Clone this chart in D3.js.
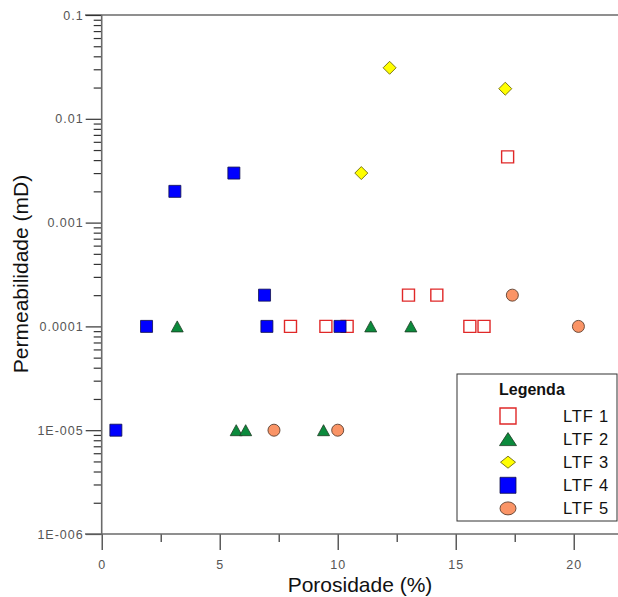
<!DOCTYPE html>
<html>
<head>
<meta charset="utf-8">
<script src="https://cdn.jsdelivr.net/npm/d3@7"></script>
<style>
  body { margin: 0; background: #fff; }
  svg { display: block; font-family: Arial, "Liberation Sans", sans-serif; }
</style>
</head>
<body>
<svg id="chart" width="618" height="597"></svg>
<script>
// porosity (%) / permeability (mD)
const ltf1_x = [8.0, 9.5, 10.4, 13.0, 14.2, 15.6, 16.2, 17.2]
const ltf1_y = [0.0001, 0.0001, 0.0001, 0.0002, 0.0002, 0.0001, 0.0001, 0.0043]
const ltf2_x = [3.2, 5.7, 6.1, 9.4, 11.4, 13.1]
const ltf2_y = [0.0001, 0.00001, 0.00001, 0.00001, 0.0001, 0.0001]
const ltf3_x = [12.2, 17.1, 11.0]
const ltf3_y = [0.031, 0.0195, 0.003]
const ltf4_x = [0.6, 1.9, 3.1, 5.6, 6.9, 7.0, 10.1]
const ltf4_y = [0.00001, 0.0001, 0.002, 0.003, 0.0002, 0.0001, 0.0001]
const ltf5_x = [7.3, 10.0, 17.4, 20.2]
const ltf5_y = [0.00001, 0.00001, 0.0002, 0.0001]

const seriesNames = ['LTF 1', 'LTF 2', 'LTF 3', 'LTF 4', 'LTF 5']
const xTicks = [0, 5, 10, 15, 20]
const xMinor = [2.5, 7.5, 12.5, 17.5]
const yTicks = [1e-6, 1e-5, 1e-4, 1e-3, 1e-2, 1e-1]
const yLabels = ['1E-006', '1E-005', '0.0001', '0.001', '0.01', '0.1']

const series = [
  {name: seriesNames[0], xs: ltf1_x, ys: ltf1_y, shape: 'square', fill: '#fff', stroke: '#e02828', sw: 1.4},
  {name: seriesNames[1], xs: ltf2_x, ys: ltf2_y, shape: 'triangle', fill: '#0b8a3c', stroke: '#1d3b22', sw: 0.8},
  {name: seriesNames[2], xs: ltf3_x, ys: ltf3_y, shape: 'diamond', fill: '#ffff00', stroke: '#6e6a10', sw: 0.9},
  {name: seriesNames[3], xs: ltf4_x, ys: ltf4_y, shape: 'square', fill: '#0000ff', stroke: '#10104a', sw: 0.8},
  {name: seriesNames[4], xs: ltf5_x, ys: ltf5_y, shape: 'circle', fill: '#fa9466', stroke: '#5c4030', sw: 0.9}
]

const svg = d3.select('#chart')
const axisColor = '#6a6a6a'

const x = d3.scaleLinear().domain([0, 22]).range([101.7, 620.9])
const y = d3.scaleLog().domain([1e-6, 0.1]).range([534, 15])

// marker path, w/h are full width and height
function shapePath(shape, w, h) {
  const a = w / 2, b = h / 2
  if (shape === 'square') return `M${-a},${-b}H${a}V${b}H${-a}Z`
  if (shape === 'triangle') return `M0,${-b}L${a},${b}L${-a},${b}Z`
  if (shape === 'diamond') return `M0,${-b}L${a},0L0,${b}L${-a},0Z`
  return `M${-a},0A${a},${b} 0 1,0 ${a},0A${a},${b} 0 1,0 ${-a},0Z`
}
const plotSize = {square: [12, 12], triangle: [12, 11], diamond: [13, 13], circle: [12, 12]}
const legSize = {square: [16, 16], triangle: [17, 13], diamond: [15, 12], circle: [16, 13]}

// top frame line
svg.append('line')
  .attr('x1', 85).attr('x2', 618).attr('y1', y(0.1)).attr('y2', y(0.1))
  .attr('stroke', axisColor).attr('stroke-width', 1.6)

// minor ticks for log axis
const yMinor = []
yTicks.slice(0, -1).forEach(d => { for (let k = 2; k <= 9; k++) yMinor.push(d * k) })

const yAxisMinor = svg.append('g')
  .attr('transform', `translate(${x(0)},0)`)
  .call(d3.axisLeft(y).tickValues(yMinor).tickSize(8).tickFormat(''))
const yAxis = svg.append('g')
  .attr('transform', `translate(${x(0)},0)`)
  .call(d3.axisLeft(y).tickValues(yTicks).tickSize(16).tickPadding(2)
    .tickFormat((d, i) => yLabels[i]))

const xAxisMinor = svg.append('g')
  .attr('transform', `translate(0,${y(1e-6)})`)
  .call(d3.axisBottom(x).tickValues(xMinor).tickSize(8).tickFormat(''))
const xAxis = svg.append('g')
  .attr('transform', `translate(0,${y(1e-6)})`)
  .call(d3.axisBottom(x).tickValues(xTicks).tickSize(16).tickPadding(10))

;[yAxisMinor, yAxis, xAxisMinor, xAxis].forEach(g => {
  g.select('.domain').remove()
  g.selectAll('line').attr('stroke', '#333').attr('stroke-width', 1.2)
  g.selectAll('text').attr('fill', '#555').style('font-size', '12.5px')
    .style('letter-spacing', '1px')
})

// axis lines
svg.append('line')
  .attr('x1', x(0)).attr('x2', x(0)).attr('y1', y(0.1)).attr('y2', y(1e-6))
  .attr('stroke', axisColor).attr('stroke-width', 1.6)
svg.append('line')
  .attr('x1', 85).attr('x2', 618).attr('y1', y(1e-6)).attr('y2', y(1e-6))
  .attr('stroke', axisColor).attr('stroke-width', 1.6)

// points
series.forEach(s => {
  const pts = s.xs.map((v, i) => [v, s.ys[i]])
  svg.append('g').selectAll('path')
    .data(pts)
    .join('path')
    .attr('transform', d => `translate(${x(d[0])},${y(d[1])})`)
    .attr('d', shapePath(s.shape, plotSize[s.shape][0], plotSize[s.shape][1]))
    .attr('fill', s.fill)
    .attr('stroke', s.stroke)
    .attr('stroke-width', s.sw)
})

// axis titles
svg.append('text')
  .attr('transform', 'translate(28,274) rotate(-90)')
  .attr('text-anchor', 'middle')
  .style('font-size', '21px')
  .attr('fill', '#111')
  .text('Permeabilidade (mD)')
svg.append('text')
  .attr('x', 360).attr('y', 592)
  .attr('text-anchor', 'middle')
  .style('font-size', '21px')
  .attr('fill', '#111')
  .text('Porosidade (%)')

// legend
const leg = svg.append('g').attr('transform', 'translate(457,374)')
leg.append('rect')
  .attr('width', 160).attr('height', 147)
  .attr('fill', '#fff').attr('stroke', '#333').attr('stroke-width', 1)
leg.append('text')
  .attr('x', 42).attr('y', 21)
  .style('font-size', '16px').style('font-weight', 'bold')
  .attr('fill', '#111')
  .text('Legenda')
const rows = leg.selectAll('g.row')
  .data(series)
  .join('g')
  .attr('class', 'row')
  .attr('transform', (d, i) => `translate(0,${42 + i * 23.1})`)
rows.append('path')
  .attr('transform', 'translate(51,0)')
  .attr('d', d => shapePath(d.shape, legSize[d.shape][0], legSize[d.shape][1]))
  .attr('fill', d => d.fill)
  .attr('stroke', d => d.stroke)
  .attr('stroke-width', d => d.sw)
rows.append('text')
  .attr('x', 106).attr('y', 6)
  .style('font-size', '16.5px')
  .style('letter-spacing', '0.8px')
  .attr('fill', '#111')
  .text(d => d.name)
</script>
</body>
</html>
